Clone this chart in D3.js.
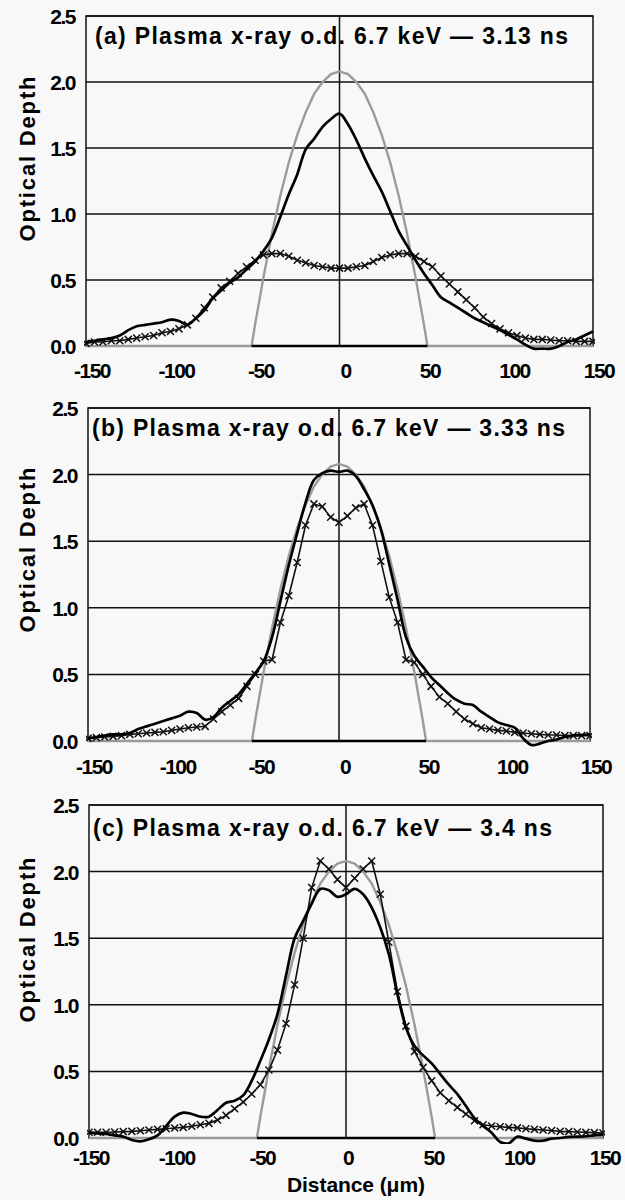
<!DOCTYPE html>
<html>
<head>
<meta charset="utf-8">
<script src="https://cdn.jsdelivr.net/npm/d3@7"></script>
<style>
  body { margin: 0; background: #f8f8f8; }
  text { font-family: "Liberation Sans", Arial, sans-serif; font-weight: bold; fill: #000; }
</style>
</head>
<body>
<div id="chart"></div>
<script>
// sample positions (micron) for measured curves
var distance = [-150,-145,-140,-135,-130,-125,-120,-115,-110,-105,-100,-95,-90,-85,-80,-75,-70,-65,-60,-55,
  -50,-45,-40,-35,-30,-25,-20,-15,-10,-5,0,5,10,15,20,25,30,35,40,45,
  50,55,60,65,70,75,80,85,90,95,100,105,110,115,120,125,130,135,140,145,150];

// model (gray) profile, same in all three panels
var modelX  = [-150,-52,-50,-45,-40,-35,-30,-25,-20,-15,-10,-5,0,5,10,15,20,25,30,35,40,45,50,52,150];
var modelOd = [0,0,0.16,0.52,0.85,1.14,1.39,1.60,1.77,1.91,2.00,2.06,2.08,2.06,2.00,1.91,1.77,1.60,1.39,1.14,0.85,0.52,0.16,0,0];

// (a) 3.13 ns
var measA = [0.03,0.04,0.05,0.06,0.08,0.12,0.15,0.16,0.17,0.18,0.20,0.19,0.16,0.21,0.27,0.36,0.42,0.48,0.52,0.58,
  0.64,0.72,0.82,0.98,1.15,1.30,1.49,1.57,1.66,1.72,1.76,1.68,1.56,1.42,1.29,1.17,1.02,0.87,0.76,0.65,
  0.55,0.46,0.37,0.33,0.29,0.25,0.21,0.18,0.15,0.12,0.085,0.05,0.01,-0.02,-0.02,-0.02,0.0,0.03,0.05,0.08,0.11];
var calcA = [0.02,0.03,0.03,0.04,0.04,0.05,0.06,0.07,0.08,0.10,0.11,0.13,0.16,0.21,0.29,0.37,0.44,0.49,0.55,0.60,
  0.65,0.69,0.70,0.70,0.68,0.65,0.63,0.61,0.60,0.59,0.59,0.59,0.60,0.61,0.64,0.67,0.69,0.70,0.70,0.68,
  0.64,0.60,0.53,0.47,0.41,0.35,0.29,0.22,0.17,0.13,0.10,0.08,0.06,0.05,0.05,0.045,0.04,0.04,0.035,0.035,0.035];

// (b) 3.33 ns
var measB = [0.02,0.03,0.04,0.05,0.05,0.06,0.09,0.11,0.13,0.15,0.17,0.19,0.22,0.21,0.16,0.18,0.25,0.30,0.35,0.43,
  0.51,0.60,0.78,1.05,1.32,1.56,1.79,1.96,2.01,2.03,2.02,2.03,1.99,1.89,1.77,1.59,1.33,1.06,0.78,0.64,
  0.56,0.48,0.42,0.36,0.31,0.28,0.27,0.22,0.18,0.14,0.12,0.10,0.02,-0.03,-0.02,0.0,0.01,0.03,0.04,0.045,0.05];
var calcB = [0.02,0.025,0.03,0.035,0.04,0.05,0.055,0.06,0.065,0.07,0.08,0.09,0.10,0.105,0.11,0.165,0.22,0.27,0.32,0.41,
  0.50,0.60,0.61,0.89,1.09,1.34,1.62,1.78,1.76,1.68,1.64,1.69,1.75,1.78,1.62,1.35,1.08,0.89,0.61,0.59,
  0.50,0.41,0.33,0.28,0.22,0.165,0.13,0.10,0.09,0.08,0.075,0.065,0.06,0.055,0.05,0.045,0.045,0.04,0.04,0.04,0.04];

// (c) 3.4 ns
var measC = [0.04,0.035,0.03,0.02,0.01,-0.015,-0.025,-0.01,0.02,0.09,0.16,0.19,0.18,0.16,0.16,0.21,0.265,0.28,0.32,0.43,
  0.58,0.74,0.93,1.22,1.50,1.63,1.76,1.87,1.86,1.81,1.83,1.87,1.83,1.73,1.58,1.38,1.08,0.83,0.69,0.62,
  0.56,0.48,0.40,0.33,0.24,0.15,0.09,0.04,-0.03,-0.04,0.01,-0.005,-0.02,-0.02,-0.005,0.0,0.008,0.01,0.013,0.02,0.025];
var calcC = [0.043,0.043,0.043,0.045,0.048,0.05,0.055,0.06,0.065,0.07,0.075,0.08,0.088,0.10,0.11,0.135,0.17,0.22,0.27,0.33,
  0.40,0.51,0.66,0.86,1.15,1.50,1.88,2.08,2.02,1.94,1.88,1.95,2.02,2.08,1.83,1.47,1.10,0.84,0.65,0.53,
  0.43,0.34,0.28,0.23,0.18,0.13,0.10,0.09,0.085,0.08,0.076,0.07,0.065,0.06,0.056,0.05,0.048,0.045,0.042,0.04,0.038];

var titles = ["(a) Plasma x-ray o.d. 6.7 keV \u2014 3.13 ns",
              "(b) Plasma x-ray o.d. 6.7 keV \u2014 3.33 ns",
              "(c) Plasma x-ray o.d. 6.7 keV \u2014 3.4 ns"];
var yTicks = [0, 0.5, 1.0, 1.5, 2.0, 2.5];
var yTickLabels = ["0.0", "0.5", "1.0", "1.5", "2.0", "2.5"];
var xTicks = [-150, -100, -50, 0, 50, 100, 150];
var yTitle = "Optical Depth";
var xTitle = "Distance (\u03bcm)";

var panels = [
  {meas: measA, calc: calcA, title: titles[0], left: 86, right: 593, top: 16,  bottom: 346,  tickDy: 32, tickDx: 6, titleX: 95, titleY: 44,  titleW: 473, yLabelY: 159},
  {meas: measB, calc: calcB, title: titles[1], left: 88, right: 590, top: 408, bottom: 741,  tickDy: 33, tickDx: 6, titleX: 92, titleY: 436, titleW: 473, yLabelY: 550},
  {meas: measC, calc: calcC, title: titles[2], left: 89, right: 603, top: 805, bottom: 1138, tickDy: 27, tickDx: 2, titleX: 93, titleY: 836, titleW: 459, yLabelY: 940}
];

var svg = d3.select("#chart").append("svg")
  .attr("width", 625)
  .attr("height", 1200)
  .style("background", "#f8f8f8");

panels.forEach(function(p, i) {
  var x = d3.scaleLinear().domain([-150, 150]).range([p.left, p.right]);
  var y = d3.scaleLinear().domain([0, 2.5]).range([p.bottom, p.top]);
  var g = svg.append("g");

  var clipId = "clip" + i;
  g.append("clipPath").attr("id", clipId)
    .append("rect")
    .attr("x", p.left - 2).attr("y", p.top)
    .attr("width", p.right - p.left + 4).attr("height", p.bottom - p.top + 6);

  // horizontal grid
  g.selectAll(".hgrid").data(yTicks).enter().append("line")
    .attr("x1", p.left).attr("x2", p.right)
    .attr("y1", function(d) { return y(d); })
    .attr("y2", function(d) { return y(d); })
    .attr("stroke", "#111").attr("stroke-width", 1.5);

  // vertical line at zero
  g.append("line")
    .attr("x1", x(0)).attr("x2", x(0))
    .attr("y1", p.top).attr("y2", p.bottom)
    .attr("stroke", "#111").attr("stroke-width", 1.5);

  // frame
  g.append("rect")
    .attr("x", p.left).attr("y", p.top)
    .attr("width", p.right - p.left).attr("height", p.bottom - p.top)
    .attr("fill", "none").attr("stroke", "#111").attr("stroke-width", 1.5);

  // y tick labels
  g.selectAll(".ylab").data(yTicks).enter().append("text")
    .attr("x", p.left - 11)
    .attr("y", function(d) { return y(d) + 8; })
    .attr("text-anchor", "end")
    .attr("font-size", 21)
    .attr("letter-spacing", -1.5)
    .text(function(d, j) { return yTickLabels[j]; });

  // x tick labels
  g.selectAll(".xlab").data(xTicks).enter().append("text")
    .attr("x", function(d) { return x(d) + p.tickDx; })
    .attr("y", p.bottom + p.tickDy)
    .attr("text-anchor", "middle")
    .attr("font-size", 21)
    .attr("letter-spacing", -1.5)
    .text(function(d) { return d; });

  // y axis title
  g.append("text")
    .attr("transform", "translate(35," + p.yLabelY + ") rotate(-90)")
    .attr("text-anchor", "middle")
    .attr("font-size", 22)
    .attr("textLength", 165)
    .attr("lengthAdjust", "spacing")
    .text(yTitle);

  var plot = g.append("g").attr("clip-path", "url(#" + clipId + ")");

  // model curve
  var modelLine = d3.line()
    .x(function(d, j) { return x(modelX[j]); })
    .y(function(d) { return y(d); });
  plot.append("path")
    .attr("d", modelLine(modelOd))
    .attr("fill", "none").attr("stroke", "#9b9b9b").attr("stroke-width", 2.4);

  // black baseline under the model between its edges
  plot.append("line")
    .attr("x1", x(-52)).attr("x2", x(52))
    .attr("y1", y(0)).attr("y2", y(0))
    .attr("stroke", "#000").attr("stroke-width", 2.5);

  // calculated curve with x markers
  var calcLine = d3.line()
    .x(function(d, j) { return x(distance[j]); })
    .y(function(d) { return y(d); });
  plot.append("path")
    .attr("d", calcLine(p.calc))
    .attr("fill", "none").attr("stroke", "#111").attr("stroke-width", 1.6);
  plot.selectAll(".mk").data(p.calc).enter().append("path")
    .attr("transform", function(d, j) { return "translate(" + x(distance[j]) + "," + y(d) + ")"; })
    .attr("d", d3.symbol().type(d3.symbolX).size(34))
    .attr("fill", "none").attr("stroke", "#111").attr("stroke-width", 1.5);

  // measured curve
  var measLine = d3.line()
    .x(function(d, j) { return x(distance[j]); })
    .y(function(d) { return y(d); })
    .curve(d3.curveCatmullRom);
  plot.append("path")
    .attr("d", measLine(p.meas))
    .attr("fill", "none").attr("stroke", "#000").attr("stroke-width", 2.7)
    .attr("stroke-linejoin", "round");

  // panel title
  g.append("text")
    .attr("x", p.titleX).attr("y", p.titleY)
    .attr("font-size", 23)
    .attr("textLength", p.titleW)
    .attr("lengthAdjust", "spacing")
    .text(p.title);
});

svg.append("text")
  .attr("x", 287).attr("y", 1192)
  .attr("font-size", 21)
  .attr("textLength", 138)
  .attr("lengthAdjust", "spacing")
  .text(xTitle);
</script>
</body>
</html>
